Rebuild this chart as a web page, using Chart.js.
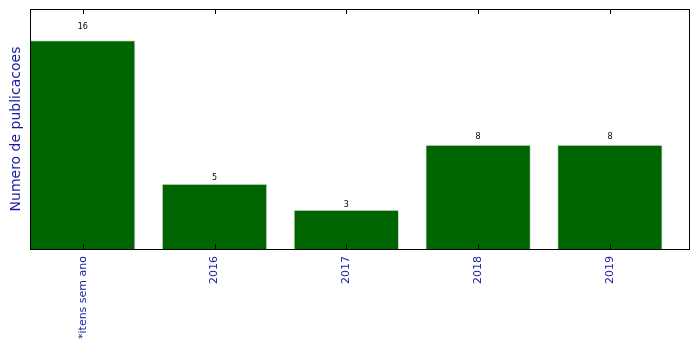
<!DOCTYPE html>
<html>
<head>
<meta charset="utf-8">
<script src="https://cdn.jsdelivr.net/npm/chart.js@4/dist/chart.umd.min.js"></script>
<style>
  html, body { margin: 0; padding: 0; background: #fff; }
  #wrap { width: 699px; height: 349px; position: relative; }
</style>
</head>
<body>
<div id="wrap"><canvas id="cv"></canvas></div>
<script>
var categories = ["*itens sem ano", "2016", "2017", "2018", "2019"];
var counts = [16, 5, 3, 8, 8];
var yTitle = "Numero de publicacoes";

var labelBlue = "#1a1aa0";

var points = [];
for (var i = 0; i < counts.length; i++) {
    points.push({ x: i, y: counts[i] });
}

// box round the plot, inward ticks top and bottom, value labels above bars
var framePlugin = {
    id: "frame",
    afterDatasetsDraw: function(chart) {
        var ctx = chart.ctx;
        var a = chart.chartArea;
        var xs = chart.scales.x;
        var ys = chart.scales.y;
        ctx.save();
        ctx.strokeStyle = "#000";
        ctx.lineWidth = 1;
        ctx.strokeRect(a.left + 0.5, a.top + 0.5, a.right - a.left, a.bottom - a.top);
        ctx.beginPath();
        for (var i = 0; i < categories.length; i++) {
            var px = Math.round(xs.getPixelForValue(i)) + 0.5;
            ctx.moveTo(px, a.bottom);
            ctx.lineTo(px, a.bottom - 5);
            ctx.moveTo(px, a.top);
            ctx.lineTo(px, a.top + 5);
        }
        ctx.stroke();

        // labels sit at 1.05 * value, like the original
        var meta = chart.getDatasetMeta(0);
        ctx.fillStyle = "#000";
        ctx.font = "8px 'DejaVu Sans'";
        ctx.textAlign = "center";
        ctx.textBaseline = "bottom";
        meta.data.forEach(function(bar, idx) {
            ctx.fillText(String(counts[idx]), bar.x, ys.getPixelForValue(counts[idx] * 1.05) + 1);
        });
        ctx.restore();
    }
};

new Chart(document.getElementById("cv"), {
    type: "bar",
    data: {
        datasets: [{
            data: points,
            backgroundColor: "#006400",
            borderColor: "#d4e0d4",
            borderWidth: 1,
            barPercentage: 0.8,
            categoryPercentage: 1.0
        }]
    },
    options: {
        responsive: true,
        maintainAspectRatio: false,
        animation: false,
        layout: { padding: { left: 0, right: 10, top: 9, bottom: 0 } },
        plugins: { legend: { display: false }, tooltip: { enabled: false } },
        scales: {
            x: {
                type: "linear",
                offset: false,
                min: -0.4,
                max: 4.6,
                afterBuildTicks: function(scale) {
                    scale.ticks = categories.map(function(c, i) { return { value: i }; });
                },
                afterFit: function(scale) { scale.height = 100; },
                grid: { display: false, drawTicks: false, offset: false },
                border: { display: false },
                ticks: {
                    autoSkip: false,
                    minRotation: 90,
                    maxRotation: 90,
                    padding: 7,
                    color: labelBlue,
                    font: { family: "'DejaVu Sans'", size: 11 },
                    callback: function(v) { return categories[v]; }
                }
            },
            y: {
                min: 0,
                max: 18.4,
                afterFit: function(scale) { scale.width = 30; },
                grid: { display: false, drawTicks: false },
                border: { display: false },
                ticks: { display: false },
                title: {
                    display: true,
                    text: yTitle,
                    color: labelBlue,
                    padding: { top: 8, bottom: 0 },
                    font: { family: "'DejaVu Sans'", size: 14 }
                }
            }
        }
    },
    plugins: [framePlugin]
});
</script>
</body>
</html>
